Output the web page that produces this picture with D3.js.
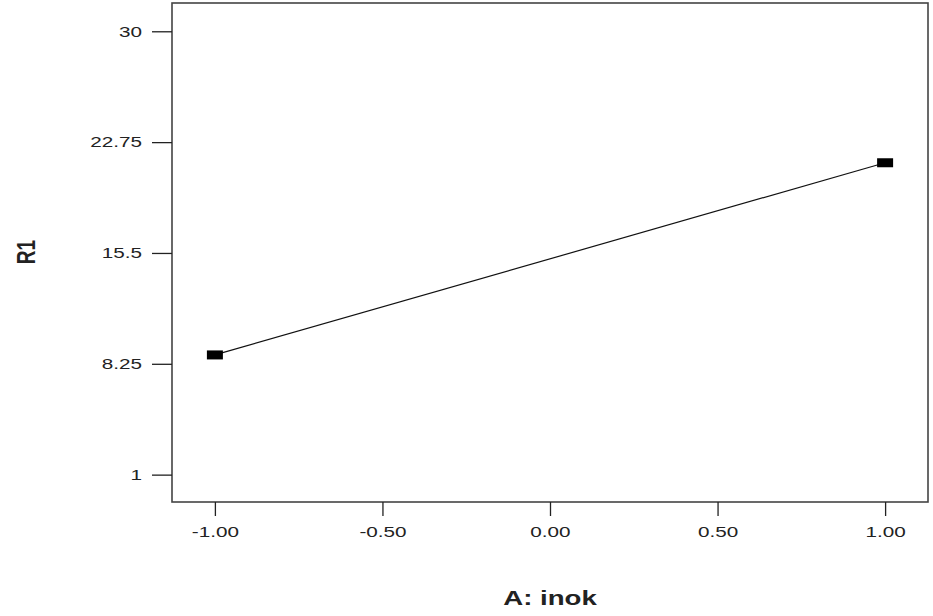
<!DOCTYPE html>
<html>
<head>
<meta charset="utf-8">
<script src="https://cdn.jsdelivr.net/npm/d3@7"></script>
<style>
  html, body { margin: 0; padding: 0; background: #fff; }
  svg { display: block; }
  text { font-family: Arial, "Liberation Sans", sans-serif; fill: #222; }
</style>
</head>
<body>
<svg id="chart" width="933" height="616"></svg>
<script>
// Factor A levels and predicted response R1
const factorLevels = [-1, 1];
const responseR1 = [8.83, 21.4];

// Axis tick values and labels
const xTicks = [-1, -0.5, 0, 0.5, 1];
const xTickLabels = ["-1.00", "-0.50", "0.00", "0.50", "1.00"];
const yTicks = [1, 8.25, 15.5, 22.75, 30];
const yTickLabels = ["1", "8.25", "15.5", "22.75", "30"];

const xTitle = "A: inok";
const yTitle = "R1";

const W = 933, H = 616;
const plot = { left: 172, right: 928, top: 3, bottom: 502 };
const stretch = 1.38; // wide glyph look of the labels

const svg = d3.select("#chart");

const x = d3.scaleLinear().domain([-1.128, 1.128]).range([plot.left, plot.right]);
const y = d3.scaleLinear().domain([-0.79, 31.85]).range([plot.bottom, plot.top]);

// Frame
svg.append("rect")
  .attr("x", plot.left).attr("y", plot.top)
  .attr("width", plot.right - plot.left).attr("height", plot.bottom - plot.top)
  .attr("fill", "none").attr("stroke", "#444").attr("stroke-width", 1.6);

// Left axis
const yAxis = d3.axisLeft(y)
  .tickValues(yTicks)
  .tickSize(20)
  .tickFormat((d, i) => yTickLabels[i]);
const gy = svg.append("g").attr("transform", `translate(${plot.left},0)`).call(yAxis);
gy.select(".domain").remove();
gy.selectAll(".tick line").attr("stroke", "#222").attr("stroke-width", 1.3);
gy.selectAll(".tick text")
  .attr("font-size", 15)
  .attr("x", -30 / stretch)
  .attr("transform", `scale(${stretch},1)`)
  .attr("fill", "#222");

// Bottom axis
const xAxis = d3.axisBottom(x)
  .tickValues(xTicks)
  .tickSize(14)
  .tickPadding(10)
  .tickFormat((d, i) => xTickLabels[i]);
const gx = svg.append("g").attr("transform", `translate(0,${plot.bottom})`).call(xAxis);
gx.select(".domain").remove();
gx.selectAll(".tick line").attr("stroke", "#222").attr("stroke-width", 1.3);
gx.selectAll(".tick text")
  .attr("font-size", 15)
  .attr("transform", `scale(${stretch},1)`)
  .attr("fill", "#222");

// Effect line
const pts = factorLevels.map((a, i) => [a, responseR1[i]]);
svg.append("path")
  .datum(pts)
  .attr("fill", "none")
  .attr("stroke", "#111")
  .attr("stroke-width", 1.2)
  .attr("d", d3.line().x(d => x(d[0])).y(d => y(d[1])));

// Design point markers
svg.selectAll("rect.pt")
  .data(pts)
  .enter().append("rect")
  .attr("class", "pt")
  .attr("x", d => x(d[0]) - 8)
  .attr("y", d => y(d[1]) - 4.5)
  .attr("width", 16).attr("height", 9)
  .attr("fill", "#000");

// Axis titles
svg.append("text")
  .attr("transform", `translate(${(plot.left + plot.right) / 2},605) scale(${stretch},1)`)
  .attr("text-anchor", "middle")
  .attr("font-size", 20)
  .attr("font-weight", "bold")
  .text(xTitle);

svg.append("text")
  .attr("transform", `translate(35,252) scale(${stretch},1) rotate(-90)`)
  .attr("text-anchor", "middle")
  .attr("font-size", 19)
  .attr("font-weight", "bold")
  .text(yTitle);
</script>
</body>
</html>
